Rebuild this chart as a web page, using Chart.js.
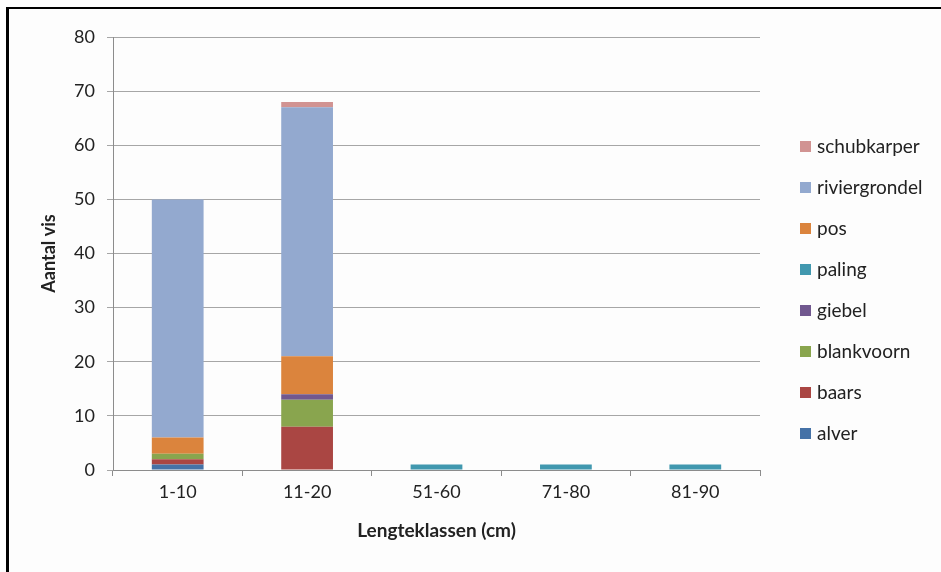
<!DOCTYPE html>
<html>
<head>
<meta charset="utf-8">
<script src="https://cdn.jsdelivr.net/npm/chart.js@4/dist/chart.umd.min.js"></script>
<style>
  html, body { margin: 0; padding: 0; background: #fdfdfd; overflow: hidden; }
  #wrap { position: relative; width: 941px; height: 572px; }
  #frame { position: absolute; left: 6px; top: 7px; width: 1000px; height: 700px;
           border-left: 3px solid #000; border-top: 2px solid #000; pointer-events: none; }
  canvas { position: absolute; left: 0; top: 0; }
  #legend { position: absolute; left: 800px; top: 0; font-family: Lato, sans-serif; font-size: 19px; color: #222; }
  .item { position: absolute; left: 0; white-space: nowrap; height: 20px; line-height: 20px; }
  .sw { position: absolute; left: 0; top: 4px; width: 11px; height: 11px; }
  .lbl { position: absolute; left: 17px; top: -1px; }
</style>
</head>
<body>
<div id="wrap">
  <canvas id="c" width="941" height="572"></canvas>
  <div id="frame"></div>
  <div id="legend"></div>
</div>
<script>
// Length classes (cm)
const categories = ['1-10', '11-20', '51-60', '71-80', '81-90'];

// Number of fish per species and length class
const alver         = [1, 0, 0, 0, 0];
const baars         = [1, 8, 0, 0, 0];
const blankvoorn    = [1, 5, 0, 0, 0];
const giebel        = [0, 1, 0, 0, 0];
const paling        = [0, 0, 1, 1, 1];
const pos           = [3, 7, 0, 0, 0];
const riviergrondel = [44, 46, 0, 0, 0];
const schubkarper   = [0, 1, 0, 0, 0];

const seriesNames = ['alver', 'baars', 'blankvoorn', 'giebel', 'paling', 'pos', 'riviergrondel', 'schubkarper'];
const seriesValues = [alver, baars, blankvoorn, giebel, paling, pos, riviergrondel, schubkarper];
const seriesColors = ['#4572A7', '#AA4643', '#89A54E', '#71588F', '#4198AF', '#DB843D', '#93A9CF', '#D19392'];

const yTicks = [0, 10, 20, 30, 40, 50, 60, 70, 80];

const FONT = 'Lato, sans-serif';
const TEXT = '#222';

const datasets = seriesNames.map((name, i) => ({
  label: name,
  data: seriesValues[i],
  backgroundColor: seriesColors[i],
  borderWidth: 0,
  categoryPercentage: 1,
  barPercentage: 0.4
}));

const chart = new Chart(document.getElementById('c'), {
  type: 'bar',
  data: { labels: categories, datasets },
  options: {
    responsive: false,
    animation: false,
    layout: { padding: { left: 0, top: 37, right: 181, bottom: 0 } },
    plugins: { legend: { display: false }, tooltip: { enabled: false } },
    scales: {
      x: {
        stacked: true,
        grid: { offset: true, drawOnChartArea: false, drawTicks: true, tickLength: 6, color: '#8c8c8c' },
        border: { display: true, color: '#8c8c8c', width: 1 },
        ticks: { font: { family: FONT, size: 18 }, color: TEXT, padding: 5 },
        title: { display: true, text: 'Lengteklassen (cm)', font: { family: FONT, size: 19, weight: 'bold' }, color: TEXT, padding: { top: 0, bottom: 30 } },
        afterFit: s => { s.height = 102; }
      },
      y: {
        stacked: true,
        min: 0,
        max: 80,
        afterBuildTicks: s => { s.ticks = yTicks.map(v => ({ value: v })); },
        grid: { color: '#a6a6a6', drawTicks: true, tickLength: 6 },
        border: { display: true, color: '#8c8c8c', width: 1 },
        ticks: { font: { family: FONT, size: 18 }, color: TEXT, padding: 12 },
        title: { display: true, text: 'Aantal vis', font: { family: FONT, size: 18, weight: 'bold' }, color: TEXT, padding: { top: 38, bottom: 0 } },
        afterFit: s => { s.width = 113; }
      }
    }
  }
});

// Legend, listed top-down in reverse stacking order
const legend = document.getElementById('legend');
chart.data.datasets.slice().reverse().forEach((ds, i) => {
  const item = document.createElement('div');
  item.className = 'item';
  item.style.top = (137 + 41 * i) + 'px';
  const sw = document.createElement('span');
  sw.className = 'sw';
  sw.style.background = ds.backgroundColor;
  const lbl = document.createElement('span');
  lbl.className = 'lbl';
  lbl.textContent = ds.label;
  item.appendChild(sw);
  item.appendChild(lbl);
  legend.appendChild(item);
});
</script>
</body>
</html>
